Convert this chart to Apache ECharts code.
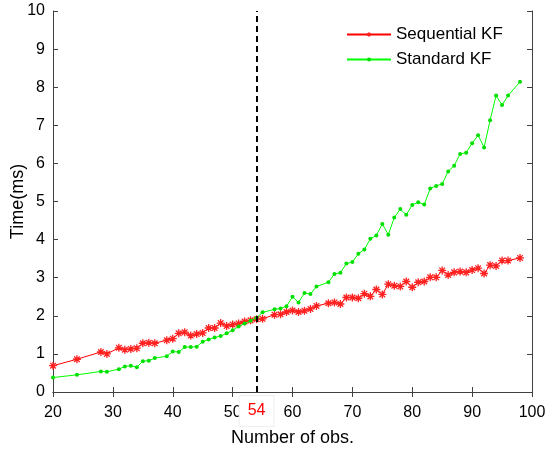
<!DOCTYPE html>
<html>
<head>
<meta charset="utf-8">
<script src="https://cdn.jsdelivr.net/npm/echarts@6/dist/echarts.min.js"></script>
<style>html,body{margin:0;padding:0;background:#fff}#c{width:550px;height:449px}</style>
</head>
<body>
<div id="c"></div>
<script>
const obs = [20,24,28,29,31,32,33,34,35,36,37,39,40,41,42,43,44,45,46,47,48,49,50,51,52,53,54,55,57,58,59,60,61,62,63,64,66,67,68,69,70,71,72,73,74,75,76,77,78,79,80,81,82,83,84,85,86,87,88,89,90,91,92,93,94,95,96,98];
const sequentialKF = [0.69,0.86,1.05,1.00,1.16,1.11,1.13,1.15,1.28,1.29,1.28,1.36,1.40,1.54,1.57,1.48,1.52,1.55,1.68,1.68,1.81,1.73,1.77,1.80,1.85,1.88,1.91,1.92,2.03,2.04,2.10,2.14,2.10,2.13,2.18,2.26,2.33,2.35,2.31,2.48,2.48,2.46,2.58,2.51,2.69,2.56,2.83,2.79,2.77,2.90,2.75,2.88,2.90,3.01,3.01,3.19,3.07,3.14,3.16,3.14,3.20,3.25,3.11,3.33,3.31,3.45,3.45,3.52];
const standardKF = [0.38,0.45,0.54,0.53,0.60,0.67,0.69,0.65,0.81,0.82,0.89,0.94,1.06,1.05,1.18,1.18,1.19,1.32,1.38,1.43,1.47,1.54,1.62,1.72,1.80,1.87,1.95,2.09,2.17,2.19,2.25,2.50,2.35,2.60,2.57,2.77,2.88,3.10,3.13,3.37,3.41,3.63,3.74,4.02,4.11,4.41,4.13,4.58,4.80,4.65,4.91,4.98,4.92,5.34,5.41,5.46,5.79,5.94,6.25,6.28,6.53,6.74,6.42,7.13,7.78,7.53,7.78,8.14];
const seriesNames = ['Sequential KF', 'Standard KF'];
const splitObs = 54;

const font = "'Liberation Sans', Arial, Helvetica, sans-serif";
const asterisk = 'path://M5,0 L5,10 M0,5 L10,5 M1.5,1.5 L8.5,8.5 M1.5,8.5 L8.5,1.5';
const frame = '#404040';

const chart = echarts.init(document.getElementById('c'));
const axisCommon = {
  axisLine: {show: true, lineStyle: {color: frame, width: 1}},
  axisTick: {show: true, inside: true, length: 5, lineStyle: {color: frame}},
  splitLine: {show: false}
};
chart.setOption({
  animation: false,
  backgroundColor: '#fff',
  grid: {left: 53, right: 18, top: 11, bottom: 57, outerBoundsMode: 'none', containLabel: false},
  legend: {
    orient: 'vertical', left: 346, top: 26, padding: 0,
    itemWidth: 44, itemHeight: 5, itemGap: 8,
    textStyle: {fontFamily: font, fontSize: 17, color: '#000'},
    data: seriesNames
  },
  xAxis: [
    Object.assign({
      type: 'value', min: 20, max: 100, interval: 10,
      name: 'Number of obs.', nameLocation: 'middle', nameGap: 37,
      nameTextStyle: {fontFamily: font, fontSize: 18, color: '#000'},
      axisLabel: {fontFamily: font, fontSize: 16, color: '#000', margin: 13}
    }, axisCommon),
    Object.assign({
      type: 'value', min: 20, max: 100, interval: 10, position: 'top',
      axisLabel: {show: false}
    }, axisCommon)
  ],
  yAxis: [
    Object.assign({
      type: 'value', min: 0, max: 10, interval: 1,
      name: 'Time(ms)', nameLocation: 'middle', nameGap: 26, nameMoveOverlap: false,
      nameTextStyle: {fontFamily: font, fontSize: 18, color: '#000'},
      axisLabel: {fontFamily: font, fontSize: 16, color: '#000', margin: 8}
    }, axisCommon),
    Object.assign({
      type: 'value', min: 0, max: 10, interval: 1, position: 'right',
      axisLabel: {show: false}
    }, axisCommon)
  ],
  series: [
    {
      name: seriesNames[0], type: 'line',
      data: obs.map((x, i) => [x, sequentialKF[i]]),
      symbol: asterisk, symbolSize: 8, showSymbol: true,
      lineStyle: {color: '#ff0000', width: 1},
      itemStyle: {color: 'rgba(255,60,60,0.35)', borderColor: '#ff2020', borderWidth: 1.3},
      markLine: {
        silent: true, symbol: ['none', 'none'],
        lineStyle: {color: '#000', type: [6, 4], width: 2},
        label: {
          show: true, position: 'start', formatter: String(splitObs),
          color: '#ff0000', fontFamily: font, fontSize: 16,
          distance: 4, padding: [7, 8, 7, 8],
          borderColor: '#eeeeee', borderWidth: 1, backgroundColor: '#fff'
        },
        data: [{xAxis: splitObs}]
      },
      z: 2
    },
    {
      name: seriesNames[1], type: 'line',
      data: obs.map((x, i) => [x, standardKF[i]]),
      symbol: 'circle', symbolSize: 4, showSymbol: true,
      lineStyle: {color: '#00ff00', width: 1},
      itemStyle: {color: '#00e000'},
      z: 3
    }
  ]
});
</script>
</body>
</html>
